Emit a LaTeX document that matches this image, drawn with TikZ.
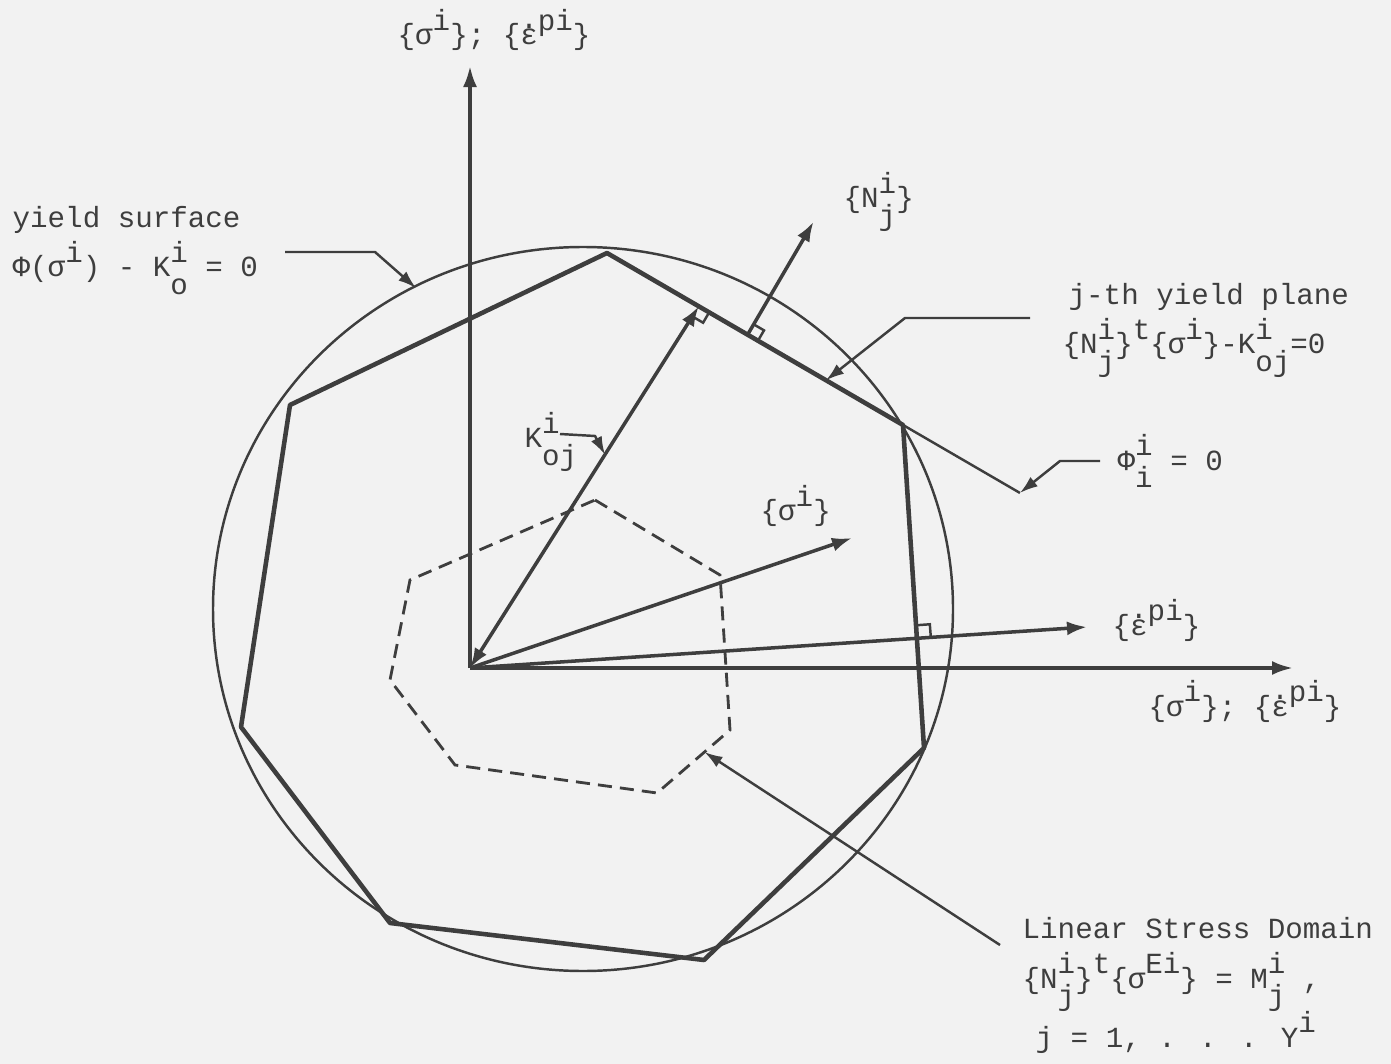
\documentclass[tikz,border=0pt]{standalone}
\usepackage{fontspec}
\newfontfamily\typew{Liberation Mono}
\usetikzlibrary{arrows.meta,calc}
\definecolor{paper}{RGB}{242,242,242}
\definecolor{ink}{RGB}{62,62,62}
\newcommand{\hup}[1]{\raisebox{0.5em}{#1}}
\newcommand{\hdn}[1]{\raisebox{-0.6em}{#1}}
\newcommand{\hud}[2]{\rlap{\hup{#1}}\hdn{#2}}
\newcommand{\edot}{\rlap{\raisebox{0.58em}{.}}ε}

\begin{document}
\begin{tikzpicture}[x=0.01cm,y=-0.01cm]
\tikzset{
    lbl/.style={font=\typew\fontsize{8.3}{10}\selectfont, text=ink, inner sep=0pt, anchor=base west},
    axis/.style={draw=ink, line width=1pt, -{Latex[length=2.1mm,width=1.4mm]}},
    vec/.style={draw=ink, line width=1pt, -{Latex[length=2mm,width=1.4mm]}},
    surf/.style={draw=ink, line width=0.7pt},
    poly/.style={draw=ink, line width=1.3pt, line join=round},
    innerpoly/.style={draw=ink, line width=0.8pt, dash pattern=on 4pt off 2.3pt},
    rmark/.style={draw=ink, line width=0.7pt},
    leader/.style={draw=ink, line width=0.7pt, -{Latex[length=1.8mm,width=1.2mm]}}
}
\path[fill=paper, use as bounding box] (0,0) rectangle (1391,1064);

% --- points ---
\coordinate (O) at (470,668);
\coordinate (ytop) at (470,66);
\coordinate (xend) at (1293,668);

\coordinate (p1) at (607,253);
\coordinate (p2) at (903,425);
\coordinate (p3) at (924,748);
\coordinate (p4) at (704,960);
\coordinate (p5) at (390,923);
\coordinate (p6) at (241,727);
\coordinate (p7) at (290,405);

\coordinate (d1) at (595,500);
\coordinate (d2) at (720,575);
\coordinate (d3) at (730,730);
\coordinate (d4) at (657,793);
\coordinate (d5) at (455,765);
\coordinate (d6) at (390,680);
\coordinate (d7) at (410,580);

\coordinate (Kt) at ($(p1)!0.31!(p2)$);
\coordinate (Ns) at ($(p1)!0.475!(p2)$);
\coordinate (Nt) at ($(Ns)+(66,-113)$);
\coordinate (Pe) at ($(p1)!1.395!(p2)$);
\coordinate (St) at (852,538);
\coordinate (Et) at (1087,627);
\coordinate (Ec) at (intersection of O--Et and p2--p3);

% --- yield surface and planes ---
\draw[surf] (583,609) ellipse [x radius=370, y radius=362];
\draw[poly] (p1) -- (p2) -- (p3) -- (p4) -- (p5) -- (p6) -- (p7) -- cycle;
\draw[surf] (p2) -- (Pe);
\draw[innerpoly] (d1) -- (d2) -- (d3) -- (d4) -- (d5) -- (d6) -- (d7) -- cycle;

% --- axes and vectors ---
\draw[axis] (O) -- (ytop);
\draw[axis] (O) -- (xend);
\draw[vec] (O) -- (St);
\draw[vec] (O) -- (Et);
\draw[vec] (Ns) -- (Nt);
\draw[vec, {Latex[length=2mm,width=1.4mm]}-{Latex[length=2mm,width=1.4mm]}] (O) -- (Kt);

% --- right angles ---
\begin{scope}[shift={(Kt)}, rotate=-30.2]
\draw[rmark] (12,0) -- (12,12) -- (0,12);
\end{scope}
\begin{scope}[shift={(Ns)}, rotate=-30.2]
\draw[rmark] (12,0) -- (12,-12) -- (0,-12);
\end{scope}
\draw[rmark] ($(Ec)+(-1,-13)$) -- ($(Ec)+(13,-14)$) -- ($(Ec)+(14,-1)$);

% --- leaders ---
\draw[leader] (285,252) -- (375,252) -- (416,288);
\draw[leader] (1030,318) -- (905,318) -- ($(p1)!0.74!(p2)$);
\draw[leader] (1100,461) -- (1060,461) -- (Pe);
\draw[leader] (560,434) -- (595,436) -- ($(O)!0.59!(Kt)$);
\draw[leader] (1000,945) -- ($(d3)!0.35!(d4)$);

% --- labels ---
\node[lbl] (tY) at (397,45) {\{σ\hup{i}\}; \{\edot\hup{pi}\}};
\node[lbl] (tN) at (843,208) {\{N\hud{i}{j}\}};
\node[lbl] (tYS1) at (12,228) {yield surface};
\node[lbl] (tYS2) at (12,277) {Φ(σ\hup{i}) - K\hud{i}{o} = 0};
\node[lbl] (tJP1) at (1068,305) {j-th yield plane};
\node[lbl] (tJP2) at (1062,354) {\{N\hud{i}{j}\}\hup{t}\{σ\hup{i}\}-K\hud{i}{oj}=0};
\node[lbl] (tK) at (524,448) {K\hud{i}{oj}};
\node[lbl] (tPhi) at (1117,470) {Φ\hud{i}{i} = 0};
\node[lbl] (tS) at (760,521) {\{σ\hup{i}\}};
\node[lbl] (tE) at (1112,635) {\{\edot\hup{pi}\}};
\node[lbl] (tX) at (1148,716) {\{σ\hup{i}\}; \{\edot\hup{pi}\}};
\node[lbl] (tL1) at (1022,938) {Linear Stress Domain};
\node[lbl] (tL2) at (1022,988) {\{N\hud{i}{j}\}\hup{t}\{σ\hup{Ei}\} = M\hud{i}{j} ,};
\node[lbl] (tL3) at (1035,1047) {j = 1, . . . Y\hup{i}};
\end{tikzpicture}
\end{document}
